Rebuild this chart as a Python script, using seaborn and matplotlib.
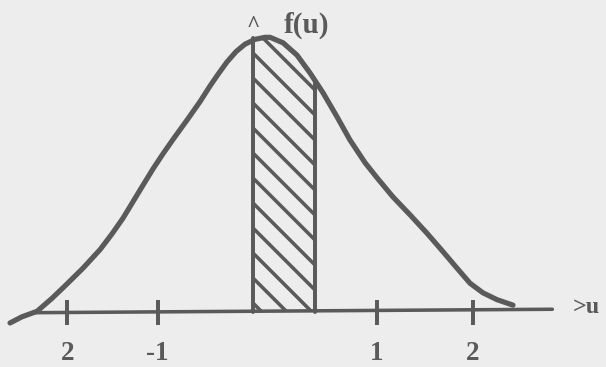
import numpy as np
import matplotlib
matplotlib.use("Agg")
import matplotlib.pyplot as plt
import seaborn as sns

# Sketched density curve f(u)
curve_u = [-2.445, -2.331, -2.188, -2.045, -1.902, -1.750, -1.588, -1.474, -1.369,
           -1.274, -1.179, -1.083, -0.988, -0.883, -0.760, -0.636, -0.540, -0.464,
           -0.379, -0.293, -0.207, -0.112, -0.017, 0.031, 0.155, 0.288, 0.412,
           0.536, 0.669, 0.793, 0.936, 1.050, 1.202, 1.364, 1.526, 1.679, 1.812,
           1.936, 2.059, 2.193, 2.345]
curve_f = [-0.016, -0.007, 0.001, 0.020, 0.041, 0.064, 0.091, 0.114, 0.137,
           0.161, 0.185, 0.209, 0.231, 0.254, 0.280, 0.307, 0.330, 0.347,
           0.365, 0.380, 0.391, 0.398, 0.401, 0.401, 0.393, 0.375, 0.349,
           0.320, 0.285, 0.251, 0.218, 0.196, 0.168, 0.142, 0.115, 0.088, 0.064,
           0.042, 0.028, 0.018, 0.010]

# Horizontal u axis (hand drawn, slightly tilted)
axis_u = [-2.21, 2.72]
axis_f = [-0.001, 0.004]

# Tick marks and their labels
tick_u = [-1.90, -1.04, 1.05, 1.96]
tick_labels = ["2", "-1", "1", "2"]

# Shaded interval under the curve
shade_lo, shade_hi = -0.13, 0.46
shade_lo_top = 0.400

LINE = "#5a5a5a"
BG = "#ededed"

sns.set_theme(style="white")
plt.rcParams["font.family"] = ["Liberation Serif", "DejaVu Serif"]
plt.rcParams["hatch.linewidth"] = 1.7
plt.rcParams["hatch.color"] = LINE

fig = plt.figure(figsize=(606 / 150, 367 / 150), dpi=150, facecolor=BG)
ax = fig.add_axes([0, 0, 1, 1], facecolor=BG)

# pixel mapping: u -> 266.75 + 105 u ; f -> 312 - 685 f
ax.set_xlim(-266.75 / 105, (606 - 266.75) / 105)
ax.set_ylim(-(367 - 312) / 685, 312 / 685)
ax.set_axis_off()

# hatched area
cu = np.array(curve_u)
cf = np.array(curve_f)
inside = (cu > shade_lo) & (cu < shade_hi)
fill_u = np.concatenate([[shade_lo], cu[inside], [shade_hi]])
fill_f = np.interp(fill_u, cu, cf)
ax.fill_between(fill_u, 0, fill_f, facecolor="none", edgecolor=LINE,
                linewidth=0, hatch="\\\\")

# interval borders
ax.vlines([shade_lo], 0, shade_lo_top, color=LINE, lw=1.9, capstyle="round")
ax.vlines([shade_hi], 0, np.interp(shade_hi, cu, cf), color=LINE, lw=1.9,
          capstyle="round")

# axis line and ticks
sns.lineplot(x=axis_u, y=axis_f, ax=ax, color=LINE, lw=1.7, sort=False,
             estimator=None)
ax.vlines(tick_u, -0.019, 0.018, color=LINE, lw=1.9)

# density curve
sns.lineplot(x=curve_u, y=curve_f, ax=ax, color=LINE, lw=2.5, sort=False,
             estimator=None, solid_capstyle="round", solid_joinstyle="round")

# labels
for u, lab in zip(tick_u, tick_labels):
    ax.text(u, -0.0785, lab, ha="center", va="bottom", fontsize=13,
            fontweight="bold", color=LINE)
ax.text(0.38, 0.418, "f(u)", ha="center", va="center", fontsize=14,
        fontweight="bold", color=LINE)
ax.text(-0.13, 0.418, "^", ha="center", va="center", fontsize=11,
        fontweight="bold", color=LINE)
ax.text(3.04, 0.006, ">u", ha="center", va="center", fontsize=11.5,
        fontweight="bold", color=LINE)

fig.savefig("out.png", dpi=150, facecolor=BG)
